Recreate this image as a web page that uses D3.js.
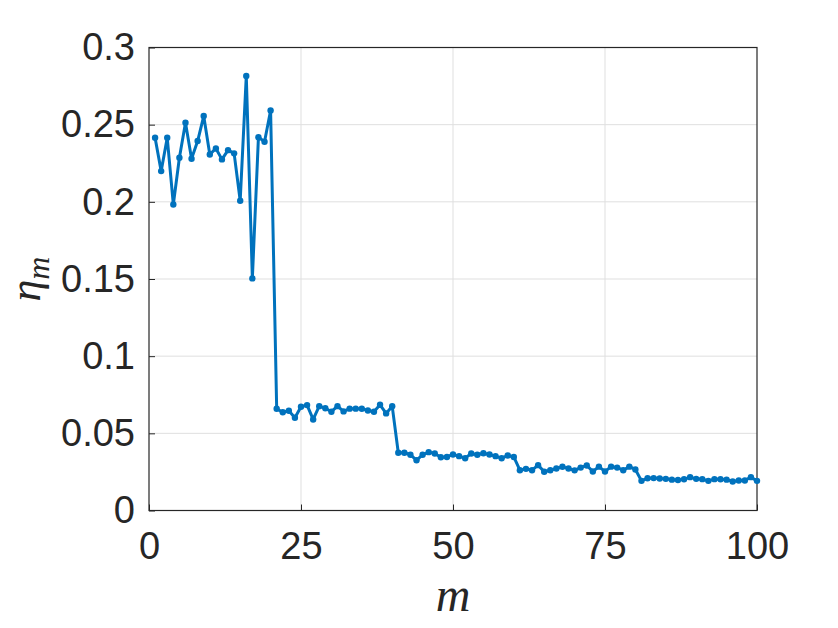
<!DOCTYPE html>
<html>
<head>
<meta charset="utf-8">
<script src="https://cdn.jsdelivr.net/npm/d3@7"></script>
<style>
  body { margin: 0; background: #fff; }
  .tick text { font-family: "Liberation Sans", Arial, sans-serif; fill: #262626; }
</style>
</head>
<body>
<div id="chart"></div>
<script>
// index m = 1..100
var mValues = d3.range(1, 101);

// eta_m
var eta = [
  0.2415, 0.2199, 0.2415, 0.1983, 0.2286, 0.2513, 0.2279, 0.2394, 0.2556, 0.2307,
  0.2346, 0.2275, 0.2335, 0.2314, 0.2007, 0.2815, 0.1504, 0.2419, 0.2389, 0.2592,
  0.0659, 0.0637, 0.0646, 0.0601, 0.0672, 0.0683, 0.0590, 0.0676, 0.0663, 0.0640,
  0.0676, 0.0642, 0.0660, 0.0660, 0.0659, 0.0648, 0.0640, 0.0685, 0.0629, 0.0676,
  0.0374, 0.0374, 0.0361, 0.0326, 0.0361, 0.0378, 0.0369, 0.0345, 0.0347, 0.0363,
  0.0352, 0.0339, 0.0369, 0.0361, 0.0371, 0.0363, 0.0352, 0.0339, 0.0356, 0.0347,
  0.0261, 0.0270, 0.0261, 0.0294, 0.0251, 0.0261, 0.0272, 0.0283, 0.0272, 0.0260,
  0.0278, 0.0292, 0.0253, 0.0284, 0.0253, 0.0284, 0.0278, 0.0261, 0.0284, 0.0266,
  0.0192, 0.0209, 0.0210, 0.0207, 0.0205, 0.0200, 0.0198, 0.0202, 0.0216, 0.0205,
  0.0203, 0.0192, 0.0203, 0.0202, 0.0200, 0.0188, 0.0194, 0.0194, 0.0216, 0.0192
];

var xTicks = [0, 25, 50, 75, 100];
var yTicks = [0, 0.05, 0.1, 0.15, 0.2, 0.25, 0.3];
var yTickLabels = ["0", "0.05", "0.1", "0.15", "0.2", "0.25", "0.3"];

var W = 838, H = 628;
var margin = { top: 47.5, right: 81, bottom: 117.5, left: 149 },
    width = W - margin.left - margin.right,
    height = H - margin.top - margin.bottom;

var svg = d3.select("#chart").append("svg")
    .attr("width", W)
    .attr("height", H);

var g = svg.append("g")
    .attr("transform", "translate(" + margin.left + "," + margin.top + ")");

var x = d3.scaleLinear().domain([0, 100]).range([0, width]);
var y = d3.scaleLinear().domain([0, 0.3]).range([height, 0]);

// grid
g.append("g").selectAll("line")
    .data(xTicks.slice(1, -1))
    .enter().append("line")
    .attr("x1", function (d) { return x(d); })
    .attr("x2", function (d) { return x(d); })
    .attr("y1", 0).attr("y2", height)
    .attr("stroke", "#dfdfdf").attr("stroke-width", 1);

g.append("g").selectAll("line")
    .data(yTicks.slice(1, -1))
    .enter().append("line")
    .attr("y1", function (d) { return y(d); })
    .attr("y2", function (d) { return y(d); })
    .attr("x1", 0).attr("x2", width)
    .attr("stroke", "#dfdfdf").attr("stroke-width", 1);

// axes (ticks pointing inward like MATLAB)
var xAxis = g.append("g")
    .attr("transform", "translate(0," + height + ")")
    .call(d3.axisBottom(x).tickValues(xTicks).tickSize(-6).tickPadding(22).tickSizeOuter(0));

var yAxis = g.append("g")
    .call(d3.axisLeft(y).tickValues(yTicks).tickSize(-6).tickPadding(14).tickSizeOuter(0)
        .tickFormat(function (d, i) { return yTickLabels[i]; }));

[xAxis, yAxis].forEach(function (a) {
    a.selectAll(".tick line").attr("stroke", "#262626");
    a.selectAll(".domain").remove();
    a.selectAll(".tick text").style("font-size", "38px");
});
xAxis.selectAll(".tick text").attr("dy", "0.71em");

// box
g.append("rect")
    .attr("x", 0).attr("y", 0)
    .attr("width", width).attr("height", height)
    .attr("fill", "none")
    .attr("stroke", "#262626").attr("stroke-width", 1.2);

// line + markers
var line = d3.line()
    .x(function (d, i) { return x(mValues[i]); })
    .y(function (d) { return y(d); });

g.append("path")
    .datum(eta)
    .attr("fill", "none")
    .attr("stroke", "#0072BD")
    .attr("stroke-width", 3)
    .attr("stroke-linejoin", "round")
    .attr("d", line);

g.append("g").selectAll("circle")
    .data(eta)
    .enter().append("circle")
    .attr("cx", function (d, i) { return x(mValues[i]); })
    .attr("cy", function (d) { return y(d); })
    .attr("r", 3.2)
    .attr("fill", "#0072BD");

// axis labels
svg.append("text")
    .attr("x", margin.left + width / 2)
    .attr("y", 611)
    .attr("text-anchor", "middle")
    .style("font-family", "'Liberation Serif', 'Times New Roman', serif")
    .style("font-style", "italic")
    .style("font-size", "48px")
    .attr("fill", "#262626")
    .text("m");

var ylab = svg.append("text")
    .attr("transform", "translate(40," + (margin.top + height / 2) + ") rotate(-90)")
    .attr("text-anchor", "middle")
    .style("font-family", "'Liberation Serif', 'Times New Roman', serif")
    .style("font-style", "italic")
    .style("font-size", "44px")
    .attr("fill", "#262626");
ylab.append("tspan").text("η");
ylab.append("tspan").attr("dy", 9).style("font-size", "32px").text("m");
</script>
</body>
</html>
